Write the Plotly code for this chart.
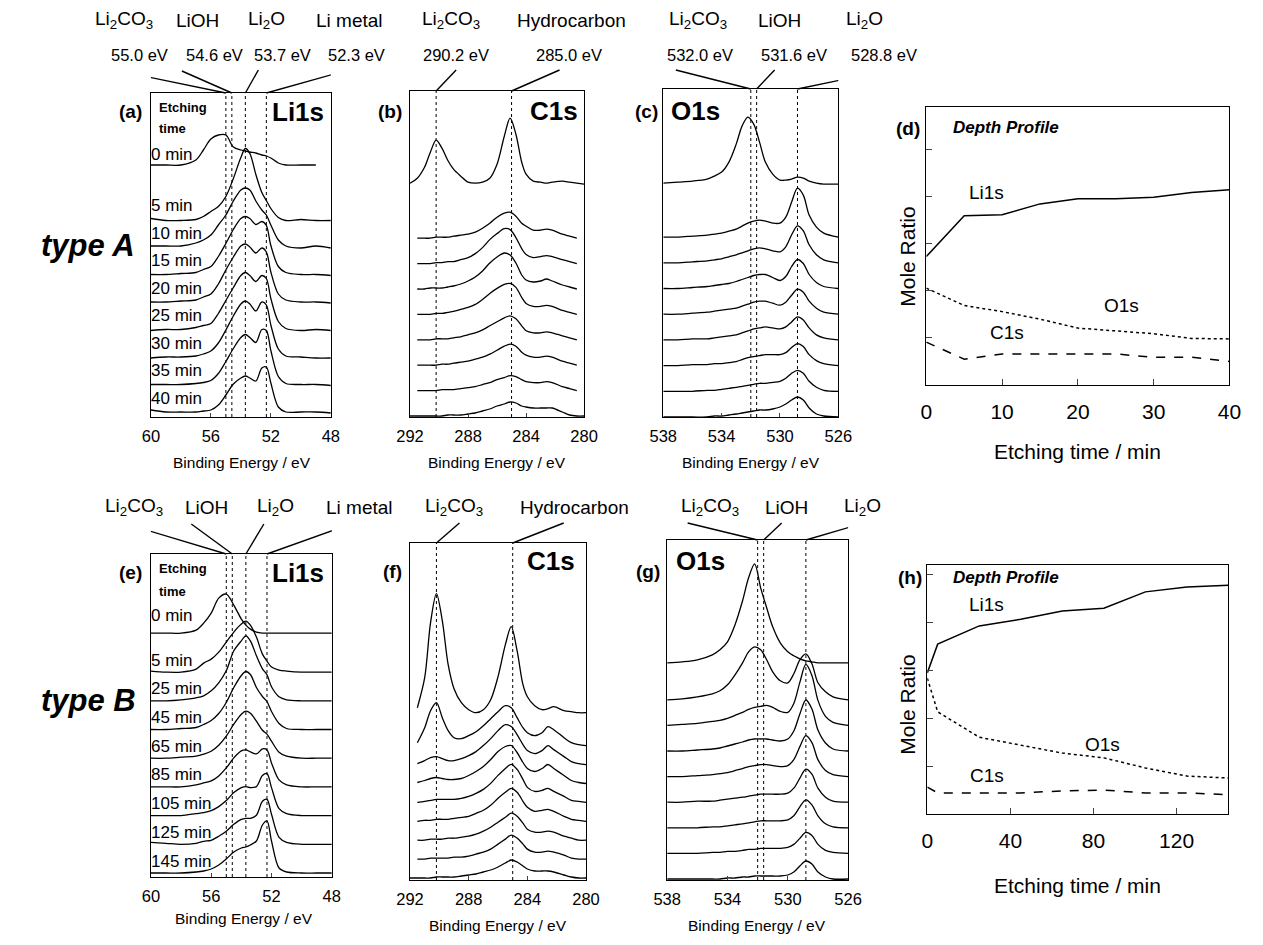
import plotly.graph_objects as go

W, H = 1263, 945
FONT = "Liberation Sans, Arial, Helvetica, sans-serif"

# ======================= DATA =======================
# Binding-energy sampling grids (eV)
LI_E = [60, 59, 58, 57, 56.5, 56, 55.5, 55, 54.5, 54, 53.7, 53.4, 53, 52.6, 52.3, 52, 51.5, 51, 50, 49, 48]
C_E = [292, 291.5, 291, 290.6, 290.2, 289.8, 289.4, 289, 288.5, 288, 287.5, 287, 286.5, 286, 285.5,
       285.1, 284.7, 284.3, 284, 283.5, 283, 282.6, 282.2, 281.5, 281, 280.5, 280]
O_E = [538, 537, 536, 535, 534.5, 534, 533.5, 533, 532.6, 532.2, 531.8, 531.4, 531, 530.5, 530,
       529.6, 529.2, 528.8, 528.4, 528, 527.5, 527, 526]

TIMES_A = ["0 min", "5 min", "10 min", "15 min", "20 min", "25 min", "30 min", "35 min", "40 min"]
TIMES_B = ["0 min", "5 min", "25 min", "45 min", "65 min", "85 min", "105 min", "125 min", "145 min"]

# type A, Li1s (intensity above each curve's own baseline)
LI1S_A_0 = [0, 0, 0, 5, 15, 26, 30, 30, 18, 15, 14, 13, 12, 10, 9, 7, 2, 0, 0, 0, None]
LI1S_A_5 = [2, 0, 0, 1, 4, 9, 14, 24, 42, 63, 72, 67, 46, 28, 20, 12, 3, 0, 1, 0, 0]
LI1S_A_10 = [2, 2, 2, 5, 8, 13, 23, 33, 47, 58, 60, 58, 47, 38, 33, 23, 8, 2, 0, 2, 0]
LI1S_A_15 = [1, 1, 2, 3, 6, 9, 19, 32, 46, 57, 59, 57, 51, 54, 50, 30, 9, 3, 1, 1, 0]
LI1S_A_20 = [1, 1, 2, 3, 6, 9, 19, 33, 46, 57, 59, 56, 50, 55, 51, 31, 9, 3, 1, 1, 0]
LI1S_A_25 = [0, 1, 1, 3, 5, 7, 17, 30, 43, 55, 58, 55, 49, 55, 52, 32, 9, 2, 0, 1, 0]
LI1S_A_30 = [0, 1, 1, 2, 4, 7, 15, 28, 42, 54, 57, 54, 47, 56, 53, 33, 9, 2, 1, 0, 0]
LI1S_A_35 = [1, 1, 1, 2, 3, 5, 12, 24, 37, 48, 51, 48, 43, 56, 55, 35, 9, 2, 1, 1, 0]
LI1S_A_40 = [3, 1, 1, 1, 2, 3, 8, 18, 29, 35, 37, 35, 32, 45, 46, 30, 6, 1, 1, 1, 0]

# type A, C1s
C1S_A_0 = [1, 6, 17, 32, 44, 36, 24, 15, 8, 2, 1, 2, 6, 20, 48, 66, 50, 22, 10, 3, 2, 1, 2, 3, 2, 1, 0]
C1S_A_5 = [None, 0, 0, 0, 1, 1, 1, 2, 3, 4, 6, 10, 15, 21, 25, 26, 22, 15, 12, 8, 8, 9, 8, 4, 2, 0, None]
C1S_A_10 = [None, 0, 0, 0, 1, 1, 2, 2, 4, 6, 10, 16, 24, 30, 35, 34, 26, 15, 9, 6, 7, 8, 7, 4, 2, 0, None]
C1S_A_15 = [None, 0, 0, 1, 1, 1, 2, 3, 5, 8, 12, 18, 26, 32, 36, 34, 26, 14, 9, 7, 8, 10, 8, 4, 2, 0, None]
C1S_A_20 = [None, 0, 0, 0, 1, 1, 2, 3, 5, 7, 10, 15, 21, 26, 30, 31, 27, 17, 11, 8, 8, 9, 8, 4, 2, 0, None]
C1S_A_25 = [None, 0, 0, 0, 1, 1, 1, 2, 3, 5, 7, 10, 14, 18, 22, 24, 21, 14, 9, 7, 7, 8, 7, 4, 2, 0, None]
C1S_A_30 = [None, 0, 0, 0, 0, 1, 1, 2, 3, 4, 6, 8, 11, 15, 19, 21, 19, 13, 10, 8, 8, 9, 8, 4, 2, 0, None]
C1S_A_35 = [None, 0, 0, 0, 0, 1, 1, 1, 2, 3, 4, 6, 8, 11, 13, 15, 14, 11, 9, 8, 8, 9, 8, 4, 2, 0, None]
C1S_A_40 = [0, 0, 0, 0, 0, 0, 1, 1, 1, 2, 3, 5, 7, 10, 12, 14, 13, 10, 9, 8, 8, 8, 8, 4, 1, 0, 0]

# type A, O1s
O1S_A_0 = [1, 2, 3, 5, 8, 12, 22, 40, 58, 67, 60, 42, 22, 10, 4, 4, 5, 7, 6, 3, 1, 0, 0]
O1S_A_5 = [0, 0, 1, 2, 3, 4, 6, 8, 11, 14, 16, 17, 16, 14, 14, 20, 35, 49, 42, 22, 10, 4, 0]
O1S_A_10 = [0, 0, 1, 2, 3, 4, 6, 8, 10, 12, 14, 15, 14, 12, 11, 16, 28, 37, 32, 18, 8, 3, 0]
O1S_A_15 = [0, 0, 1, 2, 3, 4, 5, 7, 9, 11, 13, 14, 14, 11, 8, 12, 22, 29, 25, 14, 6, 2, 0]
O1S_A_20 = [0, 0, 1, 2, 3, 4, 5, 6, 8, 10, 12, 13, 13, 11, 9, 12, 19, 25, 22, 13, 6, 2, 0]
O1S_A_25 = [0, 0, 1, 1, 2, 3, 4, 5, 7, 9, 11, 12, 13, 12, 11, 13, 18, 23, 20, 12, 5, 2, 0]
O1S_A_30 = [0, 0, 1, 1, 2, 2, 3, 4, 6, 8, 9, 10, 11, 11, 11, 13, 18, 22, 19, 11, 5, 2, 0]
O1S_A_35 = [0, 0, 0, 1, 1, 2, 3, 4, 5, 6, 7, 8, 8, 9, 10, 13, 18, 21, 18, 10, 4, 1, 0]
O1S_A_40 = [0, 0, 0, 0, 1, 1, 2, 3, 4, 5, 6, 7, 7, 8, 10, 13, 17, 20, 17, 9, 3, 1, 0]

# type B, Li1s
LI1S_B_0 = [0, 0, 0, 3, 10, 20, 35, 39, 28, 14, 8, 4, 1, 0, 0, 0, 0, 0, 0, 0, 0]
LI1S_B_5 = [1, 0, 0, 3, 9, 13, 20, 30, 40, 48, 51, 47, 35, 18, 11, 5, 2, 1, 0, 0, 0]
LI1S_B_25 = [0, 0, 1, 3, 5, 10, 18, 30, 50, 60, 65, 60, 45, 32, 26, 14, 4, 1, 0, 0, 0]
LI1S_B_45 = [0, 0, 1, 2, 5, 9, 16, 27, 42, 54, 58, 55, 42, 33, 28, 18, 6, 1, 0, 0, 0]
LI1S_B_65 = [0, 0, 1, 2, 4, 7, 13, 22, 34, 44, 47, 45, 37, 28, 24, 17, 6, 2, 0, 0, 0]
LI1S_B_85 = [0, 0, 0, 2, 4, 6, 11, 19, 29, 36, 37, 35, 33, 38, 37, 24, 7, 2, 0, 0, 0]
LI1S_B_105 = [0, 0, 0, 2, 3, 5, 9, 15, 23, 28, 29, 28, 29, 40, 42, 28, 7, 2, 0, 0, 0]
LI1S_B_125 = [2, 1, 0, 1, 3, 4, 8, 13, 20, 25, 26, 26, 29, 43, 45, 30, 7, 2, 0, 0, 0]
LI1S_B_145 = [0, 0, 0, 1, 2, 4, 8, 14, 21, 25, 26, 28, 32, 48, 52, 32, 5, 1, 0, 0, 0]

# type B, C1s
C1S_B_0 = [None, 5, 35, 90, 119, 92, 48, 24, 10, 3, 0, 3, 13, 36, 68, 86, 62, 28, 16, 7, 3, 4, 6, 2, 1, 0, 0]
C1S_B_5 = [None, 3, 18, 35, 43, 28, 15, 8, 7, 10, 14, 20, 27, 34, 40, 38, 28, 18, 13, 10, 13, 19, 16, 8, 3, 1, 0]
C1S_B_25 = [None, 1, 4, 7, 8, 6, 4, 4, 6, 9, 13, 19, 26, 34, 40, 38, 30, 20, 14, 11, 14, 19, 15, 8, 3, 1, 0]
C1S_B_45 = [None, 1, 3, 5, 6, 5, 4, 4, 5, 8, 12, 17, 24, 32, 37, 38, 31, 21, 15, 12, 15, 19, 15, 8, 3, 1, 0]
C1S_B_65 = [None, 0, 1, 2, 3, 3, 3, 3, 4, 6, 9, 13, 19, 27, 34, 38, 33, 23, 15, 11, 12, 14, 11, 6, 2, 1, 0]
C1S_B_85 = [None, 0, 1, 1, 2, 2, 2, 3, 4, 5, 8, 11, 16, 23, 29, 33, 29, 20, 14, 10, 11, 12, 10, 5, 2, 1, 0]
C1S_B_105 = [None, 0, 0, 1, 1, 1, 2, 2, 3, 4, 6, 9, 13, 18, 23, 27, 24, 17, 11, 8, 8, 9, 8, 4, 2, 0, 0]
C1S_B_125 = [None, 0, 0, 1, 1, 1, 1, 2, 2, 3, 5, 7, 10, 15, 20, 24, 21, 15, 10, 7, 7, 8, 7, 4, 1, 0, 0]
C1S_B_145 = [0, 0, 0, 0, 1, 1, 1, 1, 2, 3, 4, 6, 8, 11, 15, 18, 16, 12, 9, 7, 7, 7, 6, 3, 1, 0, 0]

# type B, O1s
O1S_B_0 = [0, 1, 3, 8, 13, 21, 38, 62, 85, 99, 75, 55, 36, 20, 11, 7, 4, 2, 1, 0, 0, 0, 0]
O1S_B_5 = [0, 1, 3, 6, 9, 15, 25, 37, 48, 53, 50, 40, 28, 19, 17, 26, 40, 46, 36, 17, 8, 3, 0]
O1S_B_25 = [0, 1, 2, 4, 5, 7, 10, 13, 16, 18, 19, 20, 18, 14, 13, 22, 43, 61, 50, 25, 9, 3, 0]
O1S_B_45 = [0, 0, 1, 2, 3, 5, 7, 9, 11, 12, 12, 12, 11, 10, 12, 20, 37, 51, 42, 21, 8, 2, 0]
O1S_B_65 = [0, 0, 1, 2, 3, 4, 6, 8, 10, 11, 12, 12, 11, 10, 11, 17, 30, 41, 34, 17, 6, 2, 0]
O1S_B_85 = [0, 0, 1, 1, 2, 3, 4, 5, 6, 7, 8, 8, 8, 8, 9, 14, 24, 33, 28, 14, 5, 1, 0]
O1S_B_105 = [0, 0, 0, 1, 1, 2, 3, 4, 5, 6, 7, 7, 7, 7, 8, 12, 21, 28, 23, 12, 4, 1, 0]
O1S_B_125 = [0, 0, 0, 1, 1, 2, 2, 3, 4, 4, 5, 5, 5, 5, 6, 9, 15, 21, 18, 9, 3, 1, 0]
O1S_B_145 = [0, 0, 0, 0, 0, 1, 1, 2, 2, 3, 3, 3, 3, 3, 4, 7, 13, 18, 15, 7, 2, 0, 0]

# reference binding energies
REF_LI = [55.0, 54.6, 53.7, 52.3]
REF_LI_NAMES = ["Li<sub>2</sub>CO<sub>3</sub>", "LiOH", "Li<sub>2</sub>O", "Li metal"]
REF_C = [290.2, 285.0]
REF_C_NAMES = ["Li<sub>2</sub>CO<sub>3</sub>", "Hydrocarbon"]
REF_O = [532.0, 531.6, 528.8]
REF_O_NAMES = ["Li<sub>2</sub>CO<sub>3</sub>", "LiOH", "Li<sub>2</sub>O"]

# depth profiles (mole ratio, arbitrary units)
DEPTH_T_A = [0, 5, 10, 15, 20, 25, 30, 35, 40]
DEPTH_LI_A = [2.73, 3.60, 3.62, 3.85, 3.96, 3.96, 3.99, 4.09, 4.15]
DEPTH_O_A = [2.06, 1.69, 1.56, 1.40, 1.21, 1.15, 1.09, 0.99, 0.98]
DEPTH_C_A = [0.91, 0.55, 0.66, 0.66, 0.66, 0.66, 0.59, 0.59, 0.50]

DEPTH_T_B = [0, 5, 25, 45, 65, 85, 105, 125, 145]
DEPTH_LI_B = [2.94, 3.54, 3.92, 4.06, 4.23, 4.29, 4.63, 4.73, 4.77]
DEPTH_O_B = [2.83, 2.13, 1.60, 1.44, 1.27, 1.17, 0.96, 0.79, 0.75]
DEPTH_C_B = [0.56, 0.44, 0.44, 0.44, 0.48, 0.50, 0.44, 0.44, 0.40]

# ======================= FIGURE =======================
fig = go.Figure()
annotations = []
shapes = []


def px(x):
    return x / W


def py(y):
    return 1 - y / H


def text(x, y, s, size, bold=False, italic=False, xanchor="center", yanchor="middle", angle=0):
    if italic:
        s = "<i>" + s + "</i>"
    if bold:
        s = "<b>" + s + "</b>"
    annotations.append(dict(x=px(x), y=py(y), xref="paper", yref="paper", text=s, showarrow=False,
                            xanchor=xanchor, yanchor=yanchor, textangle=angle,
                            font=dict(size=size, color="black", family=FONT)))


def ax_names(i):
    s = "" if i == 1 else str(i)
    return "x" + s, "y" + s, "xaxis" + s, "yaxis" + s


def spectrum_panel(i, xdom, ydom, xr, tickvals, energies, curves, bottom, step, gap,
                   refs, names, leaders, name_y, ev_y, name_x, ev_x, times=None, tdy=14, t0dy=12):
    xa, ya, xk, yk = ax_names(i)
    hpx = ydom[1] - ydom[0]
    fig.layout[xk] = dict(domain=[px(xdom[0]), px(xdom[1])], range=xr, anchor=ya,
                          tickvals=tickvals, ticks="inside", ticklen=4, tickwidth=1,
                          showline=True, linecolor="black", linewidth=1.2, mirror=True,
                          showgrid=False, zeroline=False, ticklabelstandoff=4,
                          tickfont=dict(size=16.5, color="black", family=FONT))
    fig.layout[yk] = dict(domain=[py(ydom[1]), py(ydom[0])], range=[0, hpx], anchor=xa,
                          showticklabels=False, ticks="", showline=True, linecolor="black",
                          linewidth=1.2, mirror=True, showgrid=False, zeroline=False)
    n = len(curves)
    offs = [bottom + (n - 1 - k) * step for k in range(n)]
    offs[0] = bottom + (n - 2) * step + gap
    for e in refs:
        fig.add_trace(go.Scatter(x=[e, e], y=[0, hpx], xaxis=xa, yaxis=ya, mode="lines",
                                 line=dict(color="black", width=1, dash="dot"),
                                 showlegend=False, hoverinfo="skip"))
    for k, c in enumerate(curves):
        yv = [None if v is None else v + offs[k] for v in c]
        fig.add_trace(go.Scatter(x=energies, y=yv, xaxis=xa, yaxis=ya, mode="lines",
                                 line=dict(color="black", width=1.3, shape="spline", smoothing=0.9),
                                 connectgaps=False, showlegend=False, hoverinfo="skip"))
    # leader lines from the labels down to the top of each reference line (pixel offsets)
    for e, (dx, dy) in zip(refs, leaders):
        shapes.append(dict(type="line", xref=xa, yref=ya + " domain",
                           xsizemode="pixel", ysizemode="pixel", xanchor=e, yanchor=1,
                           x0=dx, y0=dy, x1=0, y1=0,
                           line=dict(color="black", width=1.4)))
    for nm, x in zip(names, name_x):
        text(x, name_y, nm, 19)
    if ev_y is not None:
        for e, x in zip(refs, ev_x):
            text(x, ev_y, f"{e:.1f} eV", 16.5)
    if times is not None:
        for k, t in enumerate(times):
            dy = t0dy if k == 0 else tdy
            annotations.append(dict(x=0, y=offs[k] + dy, xref=xa + " domain", yref=ya, text=t,
                                    showarrow=False, xanchor="left", yanchor="middle", xshift=-2,
                                    font=dict(size=17, color="black", family=FONT)))
    return offs


def depth_panel(i, xdom, ydom, xr, yr, tickvals, t, li, o, c, lab_li, lab_o, lab_c):
    xa, ya, xk, yk = ax_names(i)
    fig.layout[xk] = dict(domain=[px(xdom[0]), px(xdom[1])], range=xr, anchor=ya,
                          tickvals=tickvals, ticks="inside", ticklen=6, tickwidth=1,
                          showline=True, linecolor="black", linewidth=1.2, mirror=True,
                          showgrid=False, zeroline=False, ticklabelstandoff=8,
                          tickfont=dict(size=21, color="black", family=FONT))
    fig.layout[yk] = dict(domain=[py(ydom[1]), py(ydom[0])], range=yr, anchor=xa,
                          tickvals=[1, 2, 3, 4, 5], ticks="inside", ticklen=6, tickwidth=1,
                          showticklabels=False, showline=True, linecolor="black", linewidth=1.2,
                          mirror=True, showgrid=False, zeroline=False)
    for series, dash in ((li, "solid"), (o, "dot"), (c, "dash")):
        fig.add_trace(go.Scatter(x=t, y=series, xaxis=xa, yaxis=ya, mode="lines",
                                 line=dict(color="black", width=1.5, dash=dash),
                                 showlegend=False, hoverinfo="skip"))
    for (lx, ly), s in ((lab_li, "Li1s"), (lab_o, "O1s"), (lab_c, "C1s")):
        annotations.append(dict(x=lx, y=ly, xref=xa, yref=ya, text=s, showarrow=False,
                                font=dict(size=19, color="black", family=FONT)))


# ---- row 1 (type A) ----
spectrum_panel(1, (140, 324), (93, 417), [60, 48], [60, 56, 52, 48], LI_E,
               [LI1S_A_0, LI1S_A_5, LI1S_A_10, LI1S_A_15, LI1S_A_20, LI1S_A_25, LI1S_A_30, LI1S_A_35, LI1S_A_40],
               4, 27.5, 55.5, REF_LI, REF_LI_NAMES,
               [(-107, 22), (-50, 22), (13, 23), (82, 23)],
               20, 55, [113, 188, 258, 343], [128, 205, 275, 350], TIMES_A, 15, 11)
spectrum_panel(2, (405, 583), (91, 417), [292, 280], [292, 288, 284, 280], C_E,
               [C1S_A_0, C1S_A_5, C1S_A_10, C1S_A_15, C1S_A_20, C1S_A_25, C1S_A_30, C1S_A_35, C1S_A_40],
               1, 25.4, 54, REF_C, REF_C_NAMES, [(20, 21), (48, 21)],
               20, 55, [447, 570], [452, 568])
spectrum_panel(3, (664, 843), (89, 417), [538, 526], [538, 534, 530, 526], O_E,
               [O1S_A_0, O1S_A_5, O1S_A_10, O1S_A_15, O1S_A_20, O1S_A_25, O1S_A_30, O1S_A_35, O1S_A_40],
               0, 25.7, 53, REF_O, REF_O_NAMES, [(-75, 19), (18, 19), (87, 18)],
               20, 55, [700, 783, 870], [702, 798, 890])
depth_panel(4, (933, 1243), (107, 385), [0, 40], [0, 5.91], [0, 10, 20, 30, 40],
            DEPTH_T_A, DEPTH_LI_A, DEPTH_O_A, DEPTH_C_A, (8.0, 4.09), (25.7, 1.70), (10.6, 1.11))

# ---- row 2 (type B) ----
spectrum_panel(5, (140, 325), (554, 877), [60, 48], [60, 56, 52, 48], LI_E,
               [LI1S_B_0, LI1S_B_5, LI1S_B_25, LI1S_B_45, LI1S_B_65, LI1S_B_85, LI1S_B_105, LI1S_B_125, LI1S_B_145],
               4, 28.7, 39, REF_LI, REF_LI_NAMES,
               [(-100, 30), (-41, 30), (18, 30), (84, 30)],
               507, None, [123, 197, 267, 353], None, TIMES_B, 12, 18)
spectrum_panel(6, (405, 585), (543, 880), [292, 280], [292, 288, 284, 280], C_E,
               [C1S_B_0, C1S_B_5, C1S_B_25, C1S_B_45, C1S_B_65, C1S_B_85, C1S_B_105, C1S_B_125, C1S_B_145],
               2, 18.9, 33, REF_C, REF_C_NAMES, [(23, 20), (51, 20)],
               507, None, [450, 573], None)
spectrum_panel(7, (668, 853), (540, 880), [538, 526], [538, 534, 530, 526], O_E,
               [O1S_B_0, O1S_B_5, O1S_B_25, O1S_B_45, O1S_B_65, O1S_B_85, O1S_B_105, O1S_B_125, O1S_B_145],
               1, 25.6, 37, REF_O, REF_O_NAMES, [(-70, 17), (18, 17), (58, 17)],
               507, None, [712, 790, 868], None)
depth_panel(8, (934, 1242), (565, 814), [0, 145], [0, 5.19], [0, 40, 80, 120],
            DEPTH_T_B, DEPTH_LI_B, DEPTH_O_B, DEPTH_C_B, (28.7, 4.375), (84.3, 1.44), (28.7, 0.81))

# ---- panel letters and titles ----
for lbl, x, y in (("(a)", 119, 112), ("(b)", 385, 112), ("(c)", 647, 112), ("(d)", 914, 128),
                  ("(e)", 119, 572), ("(f)", 387, 571), ("(g)", 648, 571), ("(h)", 916, 577)):
    text(x, y, lbl, 19, bold=True)
for s, x, y in (("Li1s", 290, 112), ("C1s", 552, 111), ("O1s", 697, 111),
                ("Li1s", 290, 573), ("C1s", 549, 561), ("O1s", 702, 561)):
    text(x, y, s, 26, bold=True)
text(958, 127, "Depth Profile", 17, bold=True, italic=True, xanchor="left")
text(958, 577, "Depth Profile", 17, bold=True, italic=True, xanchor="left")
text(146, 107, "Etching", 13, bold=True, xanchor="left")
text(146, 129, "time", 13, bold=True, xanchor="left")
text(146, 568, "Etching", 13, bold=True, xanchor="left")
text(146, 591, "time", 13, bold=True, xanchor="left")

# ---- axis titles ----
for x, y in ((233, 462), (494, 462), (754, 462), (235, 918), (495, 925), (760, 925)):
    text(x, y, "Binding Energy / eV", 15.5)
text(913, 257, "Mole Ratio", 21, angle=-90)
text(913, 705, "Mole Ratio", 21, angle=-90)
text(1088, 452, "Etching time / min", 21)
text(1088, 885, "Etching time / min", 21)

# ---- row labels ----
text(76, 245, "type A", 31, bold=True, italic=True)
text(76, 700, "type B", 31, bold=True, italic=True)

fig.update_layout(width=W, height=H, autosize=False, margin=dict(l=0, r=0, t=0, b=0),
                  paper_bgcolor="white", plot_bgcolor="white", showlegend=False,
                  annotations=annotations, shapes=shapes, font=dict(family=FONT, color="black"))

fig.write_html("out.html")
